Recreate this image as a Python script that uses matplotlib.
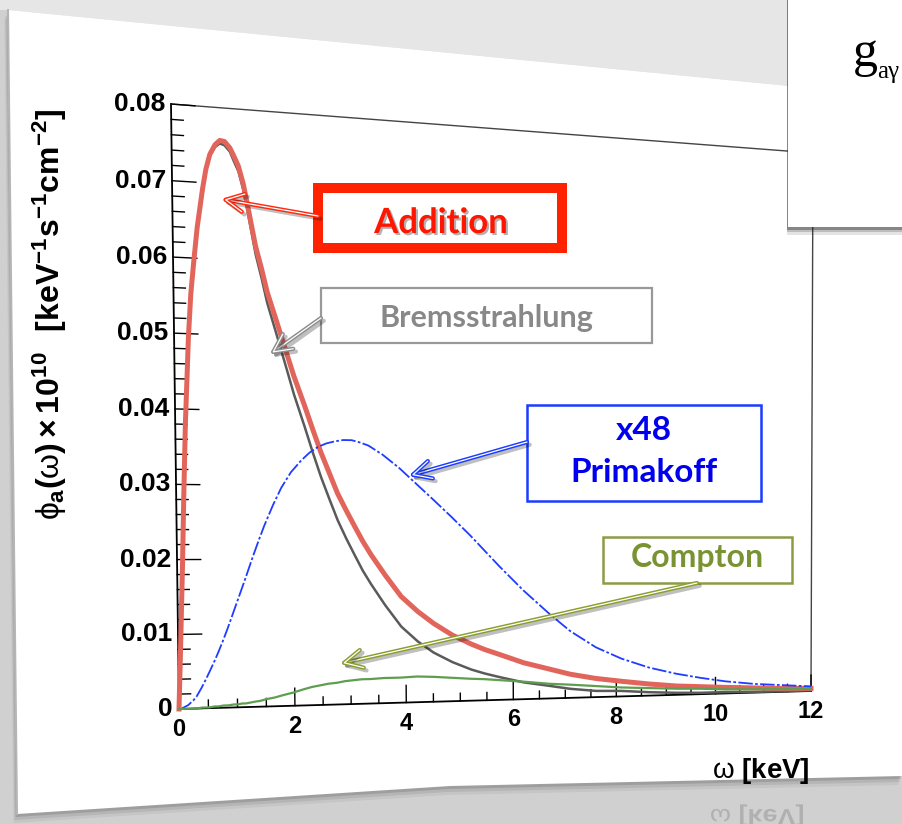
import numpy as np
import matplotlib

matplotlib.use("Agg")
import matplotlib.pyplot as plt
import matplotlib.patheffects as pe
import matplotlib.transforms as mtransforms
from matplotlib.font_manager import FontProperties
from matplotlib.patches import PathPatch, Polygon, Rectangle
from matplotlib.textpath import TextPath

plt.rcParams["mathtext.fontset"] = "custom"
plt.rcParams["mathtext.rm"] = "Liberation Sans:bold"
plt.rcParams["mathtext.it"] = "Liberation Sans"
plt.rcParams["mathtext.bf"] = "Liberation Sans:bold"

# energy grids [keV]: finer one for the sharp bremsstrahlung peak
omega_peak = [0, 0.03, 0.06, 0.09, 0.13, 0.17, 0.21, 0.24, 0.29, 0.35, 0.41,
              0.51, 0.57, 0.64, 0.73, 0.81, 0.89, 0.98, 1.05, 1.12, 1.2,
              1.26, 1.4, 1.5, 1.59, 1.74, 1.88, 2.04, 2.22, 2.36, 2.5, 2.65,
              2.79, 2.94, 3.09, 3.23, 3.38, 3.63, 3.92, 4.22, 4.51, 4.86,
              5.21, 5.46, 5.76, 6.2, 6.7, 7.1, 7.6, 8.1, 8.65, 9.2, 9.7,
              10.2, 10.8, 11.4, 12]
omega = [0, 0.02, 0.04, 0.06, 0.085, 0.11, 0.135, 0.16, 0.2, 0.245, 0.3,
         0.39, 0.45, 0.52, 0.6, 0.68, 0.76, 0.85, 0.93, 1.0, 1.08, 1.15,
         1.3, 1.4, 1.5, 1.65, 1.8, 1.97, 2.15, 2.3, 2.45, 2.6, 2.75, 2.9,
         3.05, 3.2, 3.35, 3.6, 3.9, 4.2, 4.5, 4.85, 5.2, 5.45, 5.75, 6.2,
         6.7, 7.1, 7.6, 8.1, 8.65, 9.2, 9.7, 10.2, 10.8, 11.4, 12]
# axion fluxes, units of 1e10 keV^-1 s^-1 cm^-2
flux_addition = [0, 0.0060, 0.0125, 0.0190, 0.0290, 0.0380, 0.0445, 0.0495,
                 0.0553, 0.0598, 0.0640, 0.0692, 0.0718, 0.0738, 0.0751,
                 0.0757, 0.0756, 0.0748, 0.0737, 0.0725, 0.0702, 0.0678,
                 0.0620, 0.0590, 0.0560, 0.0523, 0.0488, 0.0448, 0.0409,
                 0.0377, 0.0346, 0.0317, 0.0290, 0.0267, 0.0245, 0.0225,
                 0.0206, 0.0178, 0.0148, 0.0127, 0.0110, 0.0093, 0.0080,
                 0.0072, 0.0064, 0.0052, 0.0042, 0.0034, 0.0027, 0.0022,
                 0.0017, 0.0013, 0.0011, 0.0009, 0.0007, 0.0005, 0.0004]
flux_brems = [0, 0.0060, 0.0125, 0.0190, 0.0290, 0.0380, 0.0445, 0.0495,
              0.0553, 0.0598, 0.0640, 0.0690, 0.0716, 0.0736, 0.0748,
              0.0753, 0.0751, 0.0743, 0.0730, 0.0718, 0.0694, 0.0670,
              0.0609, 0.0577, 0.0545, 0.0505, 0.0467, 0.0423, 0.0380,
              0.0345, 0.0312, 0.0281, 0.0253, 0.0228, 0.0205, 0.0184,
              0.0165, 0.0136, 0.0106, 0.0085, 0.0069, 0.0055, 0.0044,
              0.0038, 0.0032, 0.0024, 0.0018, 0.0013, 0.0009, 0.0008,
              0.0005, 0.0003, 0.0002, 0.0002, 0.0001, 0.0001, 0.0001]
flux_primakoff_x48 = [0, 0, 0, 0.0001, 0.0002, 0.0003, 0.0004, 0.0005,
                      0.0008, 0.0011, 0.0016, 0.0028, 0.0037, 0.0048, 0.0061,
                      0.0075, 0.0090, 0.0108, 0.0125, 0.0140, 0.0157, 0.0172,
                      0.0205, 0.0226, 0.0246, 0.0273, 0.0297, 0.0318, 0.0334,
                      0.0345, 0.0353, 0.0358, 0.0361, 0.0363, 0.0363, 0.0360,
                      0.0356, 0.0344, 0.0326, 0.0305, 0.0284, 0.0259, 0.0233,
                      0.0213, 0.0189, 0.0155, 0.0121, 0.0096, 0.0072, 0.0055,
                      0.0041, 0.0031, 0.0024, 0.0018, 0.0013, 0.0010, 0.0007]
flux_compton = [0, 0, 0, 0, 0, 0, 0, 0, 0, 0, 0, 0.0001, 0.0001, 0.0001,
                0.0002, 0.0002, 0.0003, 0.0003, 0.0004, 0.0004, 0.0005,
                0.0005, 0.0007, 0.0008, 0.0010, 0.0012, 0.0015, 0.0018,
                0.0022, 0.0025, 0.0027, 0.0029, 0.0030, 0.0032, 0.0033,
                0.0034, 0.0034, 0.0035, 0.0035, 0.0036, 0.0035, 0.0033,
                0.0031, 0.0030, 0.0028, 0.0025, 0.0021, 0.0019, 0.0016,
                0.0013, 0.0011, 0.0009, 0.0008, 0.0006, 0.0005, 0.0004,
                0.0003]

X_MAX, Y_MAX = 12, 0.08
x_major = [0, 2, 4, 6, 8, 10, 12]
x_labels = ["0", "2", "4", "6", "8", "10", "12"]
y_major = [0, 0.01, 0.02, 0.03, 0.04, 0.05, 0.06, 0.07, 0.08]
y_labels = ["0", "0.01", "0.02", "0.03", "0.04", "0.05", "0.06", "0.07", "0.08"]

W, H = 902, 824
# where the frame corners (0,0) (12,0) (0,0.08) (12,0.08) land on the slide
FRAME = [(179, 709), (811, 691), (171, 104), (813, 153)]


class Perspective(mtransforms.Transform):
    """Projective map from data to slide pixels (the plot is tilted)."""
    input_dims = output_dims = 2
    is_separable = False
    has_inverse = False

    def __init__(self, corners, xmax, ymax):
        super().__init__()
        src = [(0, 0), (1, 0), (0, 1), (1, 1)]
        A, b = [], []
        for (s, t), (u, v) in zip(src, corners):
            A.append([s, t, 1, 0, 0, 0, -u * s, -u * t]); b.append(u)
            A.append([0, 0, 0, s, t, 1, -v * s, -v * t]); b.append(v)
        h = np.linalg.solve(np.array(A, float), np.array(b, float))
        self.M = np.append(h, 1.0).reshape(3, 3)
        self.scale = np.array([xmax, ymax], float)

    def transform_non_affine(self, values):
        v = np.asarray(values, float).reshape(-1, 2) / self.scale
        p = np.column_stack([v, np.ones(len(v))]) @ self.M.T
        return p[:, :2] / p[:, 2:3]


fig = plt.figure(figsize=(W / 100, H / 100), dpi=100, facecolor="#d0d0d0")
bg = fig.add_axes([0, 0, 1, 1])
bg.set_xlim(0, W)
bg.set_ylim(H, 0)
bg.set_autoscale_on(False)
bg.axis("off")
T = Perspective(FRAME, X_MAX, Y_MAX) + bg.transData

# slide: grey backdrop, white card with a soft shadow
bg.add_patch(Polygon([(0, 0), (W, 0), (W, 97), (8, 10), (0, 10)],
                     fc="#e6e6e6", ec="none"))
card = [(8, 10), (W, 97), (W, 776), (450, 786), (17, 814)]
for d, a in [(9, 0.08), (6, 0.12), (3, 0.2)]:
    bg.add_patch(Polygon([(x - 0.4 * d, y + d) for x, y in card],
                         fc="#444444", ec="none", alpha=a))
bg.add_patch(Polygon(card, fc="white", ec="none"))
bg.plot([8, 17], [10, 814], color="#b5b5b5", lw=1.5)

# frame
bg.plot([0, 0], [0, Y_MAX], transform=T, color="black", lw=1.3)
bg.plot([0, X_MAX], [0, 0], transform=T, color="black", lw=1.3)
bg.plot([0, X_MAX], [Y_MAX, Y_MAX], transform=T, color="#444444", lw=1.0)
bg.plot([X_MAX, X_MAX], [0, Y_MAX], transform=T, color="#444444", lw=1.0)

for v in np.arange(0, Y_MAX + 1e-9, 0.002):
    major = abs(v / 0.01 - round(v / 0.01)) < 1e-6
    bg.plot([0, 0.40 if major else 0.20], [v, v], transform=T,
            color="black", lw=1.0)
for v in np.arange(0, X_MAX + 1e-9, 0.5):
    major = v % 2 == 0
    bg.plot([v, v], [0, 0.0024 if major else 0.0011], transform=T,
            color="black", lw=1.0)

# spectra
bg.plot(omega_peak, flux_brems, transform=T, color="#5a5a5a", lw=1.8,
        zorder=3)
bg.plot(omega_peak, flux_addition, transform=T, color="#e2655b", lw=3.6,
        zorder=4)
bg.plot(omega, flux_primakoff_x48, transform=T, color="#1f3cff", lw=1.3,
        ls=(0, (8, 1.3, 1.5, 1.3)), zorder=5)
bg.plot(omega, flux_compton, transform=T, color="#5e9e50", lw=1.6, zorder=5)

tick_font = dict(family="Liberation Sans", weight="bold", color="black")
for v, lab in zip(y_major, y_labels):
    tr = mtransforms.offset_copy(T, fig=fig, x=-6, y=0, units="dots")
    bg.text(0, v, lab, transform=tr, ha="right", va="center", fontsize=19,
            **tick_font)
for v, lab in zip(x_major, x_labels):
    tr = mtransforms.offset_copy(T, fig=fig, x=0, y=-9, units="dots")
    bg.text(v, 0, lab, transform=tr, ha="center", va="top", fontsize=17,
            **tick_font)

bg.text(50, 314,
        r"$\phi_{\mathbf{a}}(\omega)\times\mathbf{10^{10}}$  "
        r"$\mathbf{[keV^{-1}s^{-1}cm^{-2}]}$",
        rotation=90, ha="center", va="center", fontsize=23, color="black")
bg.text(810, 778, r"$\omega$ [keV]", ha="right", va="baseline", fontsize=20,
        **tick_font)

# mirrored axis title below the card
rp = TextPath((0, 0), r"$\omega$ [keV]", size=27,
              prop=FontProperties(family="Liberation Sans", weight="bold"))
ext = rp.get_extents()
bg.add_patch(PathPatch(rp, fc="#a9a9a9", ec="none", alpha=0.8,
                       transform=mtransforms.Affine2D().scale(1, 0.85)
                       .translate(803 - ext.x1, 809) + bg.transData))

# call-out boxes
shadow = [pe.withSimplePatchShadow(offset=(1.5, -1.5), shadow_rgbFace="black",
                                   alpha=0.3)]
ann_font = dict(family="Lato", weight="bold")


def box(x0, y0, x1, y1, color, lw):
    bg.add_patch(Rectangle((x0, y0), x1 - x0, y1 - y0, fc="white", ec=color,
                           lw=lw, zorder=6))


def callout(tip, start, color):
    bg.annotate("", xy=tip, xycoords=T, xytext=start, textcoords="data",
                zorder=7,
                arrowprops=dict(arrowstyle="->,head_length=1.3,head_width=0.65",
                                color=color, lw=3.0, shrinkA=0, shrinkB=0,
                                path_effects=[
                                    pe.SimpleLineShadow(offset=(2, -2),
                                                        alpha=0.25),
                                    pe.Stroke(linewidth=3.0, foreground=color),
                                    pe.Stroke(linewidth=0.9,
                                              foreground="white")]))


box(318, 188, 562, 248, "#ff2200", 7.2)
bg.text(441, 233, "Addition", ha="center", va="baseline", fontsize=25,
        color="#ff1500", zorder=8, path_effects=shadow, **ann_font)
callout((0.82, 0.068), (318, 216), "#ff2a10")

box(321, 288, 652, 343, "#999999", 1.6)
bg.text(486, 327, "Bremsstrahlung", ha="center", va="baseline", fontsize=22,
        color="#888888", zorder=8, **ann_font)
callout((1.62, 0.0476), (321, 318), "#8c8c8c")

box(527, 405, 761, 501, "#1a3cff", 1.8)
bg.text(644, 440, "x48", ha="center", va="baseline", fontsize=24,
        color="#0000ee", zorder=8, **ann_font)
bg.text(644, 482, "Primakoff", ha="center", va="baseline", fontsize=24,
        color="#0000ee", zorder=8, **ann_font)
callout((4.07, 0.0315), (527, 442), "#1a3cff")

box(603, 537, 792, 583, "#8c9c45", 1.8)
bg.text(697, 567, "Compton", ha="center", va="baseline", fontsize=23,
        color="#7a9332", zorder=8, **ann_font)
callout((2.8, 0.0056), (697, 583), "#8a9e2e")

# coupling box in the top-right corner of the slide
for d, a in [(8, 0.12), (5, 0.2), (3, 0.35)]:
    bg.add_patch(Rectangle((787, 0), W, 227 + d, fc="#222222",
                           ec="none", alpha=a, zorder=9))
bg.add_patch(Rectangle((788, 0), W, 227, fc="white", ec="none", zorder=10))
bg.text(853, 66, "g", family="Liberation Serif", fontsize=36, color="black",
        va="baseline", zorder=11)
bg.text(877, 78, "a\u03b3", family="Liberation Serif", fontsize=18,
        color="black", va="baseline", zorder=11)

fig.savefig("out.png", dpi=100, facecolor=fig.get_facecolor())
